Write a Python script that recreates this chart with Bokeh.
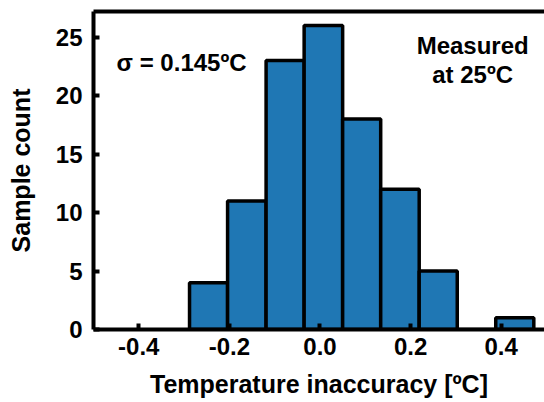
from bokeh.plotting import figure
from bokeh.models import LinearAxis, Label, FixedTicker, Range1d
from bokeh.embed import file_html
from bokeh.resources import INLINE

# Histogram data
bin_edges = [-0.288, -0.204, -0.119, -0.035, 0.050, 0.134, 0.219, 0.303, 0.388, 0.472]
counts = [4, 11, 23, 26, 18, 12, 5, 0, 1]

x_ticks = [-0.4, -0.2, 0.0, 0.2, 0.4]
x_tick_labels = ["-0.4", "-0.2", "0.0", "0.2", "0.4"]
y_ticks = [0, 5, 10, 15, 20, 25]

FONT = "Liberation Sans"

p = figure(width=544, height=402, output_backend="svg", toolbar_location=None,
           x_range=Range1d(-0.5, 0.4956), y_range=Range1d(0, 27.2),
           min_border_left=93, min_border_right=0, min_border_top=11, min_border_bottom=73)
p.grid.visible = False
p.outline_line_color = None
p.background_fill_color = "white"
p.border_fill_color = "white"

p.quad(left=bin_edges[:-1], right=bin_edges[1:], top=counts, bottom=0,
       fill_color="#1f77b4", line_color="black", line_width=3.5)

for ax in (p.xaxis[0], p.yaxis[0]):
    ax.axis_line_width = 4
    ax.axis_line_color = "black"
    ax.major_tick_in = 6
    ax.major_tick_out = 0
    ax.major_tick_line_width = 4
    ax.minor_tick_line_color = None
    ax.major_label_text_font = FONT
    ax.major_label_text_font_style = "bold"
    ax.major_label_text_font_size = "24px"
    ax.major_label_text_color = "black"
    ax.axis_label_text_font = FONT
    ax.axis_label_text_font_style = "bold"
    ax.axis_label_text_font_size = "25px"
    ax.axis_label_text_color = "black"

p.xaxis.ticker = FixedTicker(ticks=x_ticks)
p.xaxis.major_label_overrides = {t: l for t, l in zip(x_ticks, x_tick_labels)}
p.xaxis.axis_label = "Temperature inaccuracy [ºC]"
p.xaxis.major_label_standoff = 8
p.xaxis.axis_label_standoff = 12

p.yaxis.ticker = FixedTicker(ticks=y_ticks)
p.yaxis.axis_label = "Sample count"
p.yaxis.major_label_standoff = 11
p.yaxis.axis_label_standoff = 18

top_axis = LinearAxis(ticker=FixedTicker(ticks=[]), axis_line_width=4, axis_line_color="black",
                      major_tick_line_color=None, minor_tick_line_color=None,
                      major_label_text_font_size="0px", major_label_standoff=0)
p.add_layout(top_axis, "above")

p.add_layout(Label(x=-0.449, y=22.8, text="σ = 0.145ºC", text_font=FONT, text_font_style="bold",
                   text_font_size="24px", text_align="left", text_baseline="middle", text_color="black"))
p.add_layout(Label(x=0.337, y=24.3, text="Measured", text_font=FONT, text_font_style="bold",
                   text_font_size="24px", text_align="center", text_baseline="middle", text_color="black"))
p.add_layout(Label(x=0.337, y=21.8, text="at 25ºC", text_font=FONT, text_font_style="bold",
                   text_font_size="24px", text_align="center", text_baseline="middle", text_color="black"))

open("out.html", "w").write(file_html(p, INLINE))
